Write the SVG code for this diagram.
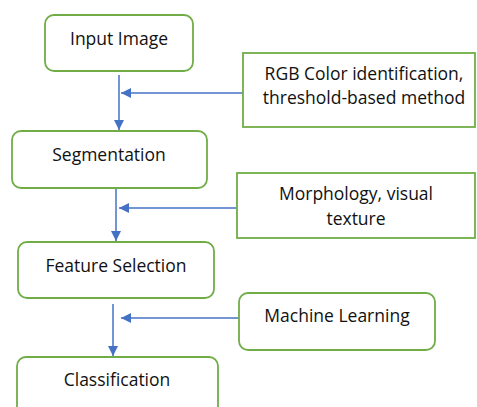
<svg xmlns="http://www.w3.org/2000/svg" width="477" height="407" viewBox="0 0 477 407">
  <defs>
    <style>
      .box { fill: #ffffff; stroke: #70AD47; stroke-width: 1.8; }
      .lbl { font-family: "Open Sans", "Liberation Sans", sans-serif; font-size: 17.5px; fill: #111111; text-anchor: middle; }
      .edge { fill: none; stroke: #4472C4; stroke-width: 1.5; }
    </style>
    <marker id="head" viewBox="0 0 10 10" refX="10" refY="5" markerWidth="10" markerHeight="10" markerUnits="userSpaceOnUse" orient="auto">
      <path d="M0,0 L10,5 L0,10 Z" fill="#4472C4"/>
    </marker>
  </defs>
  <rect width="477" height="407" fill="#ffffff"/>

  <g id="connectors">
    <line class="edge" x1="119" y1="75" x2="119" y2="130" marker-end="url(#head)"/>
    <line class="edge" x1="243" y1="93" x2="121" y2="93" marker-end="url(#head)"/>
    <line class="edge" x1="116" y1="184" x2="116" y2="241" marker-end="url(#head)"/>
    <line class="edge" x1="237" y1="208" x2="119" y2="208" marker-end="url(#head)"/>
    <line class="edge" x1="113" y1="304" x2="113" y2="356" marker-end="url(#head)"/>
    <line class="edge" x1="239" y1="318" x2="121" y2="318" marker-end="url(#head)"/>
  </g>

  <g id="input-image">
    <rect class="box" x="45" y="15" width="148" height="56" rx="9"/>
    <text class="lbl" x="119" y="44.5">Input Image</text>
  </g>
  <g id="segmentation">
    <rect class="box" x="12" y="131" width="195" height="57" rx="9"/>
    <text class="lbl" x="109" y="160.5">Segmentation</text>
  </g>
  <g id="feature-selection">
    <rect class="box" x="18" y="242" width="196" height="56" rx="9"/>
    <text class="lbl" x="116" y="271.5">Feature Selection</text>
  </g>
  <g id="classification">
    <rect class="box" x="17" y="357" width="201" height="60" rx="9"/>
    <text class="lbl" x="117" y="385.5">Classification</text>
  </g>
  <g id="rgb-threshold">
    <rect class="box" x="243" y="53" width="232" height="74"/>
    <text class="lbl" x="364" y="79.5">RGB Color identification,</text>
    <text class="lbl" x="364" y="104">threshold-based method</text>
  </g>
  <g id="morphology-texture">
    <rect class="box" x="237" y="173" width="238" height="65"/>
    <text class="lbl" x="356" y="200">Morphology, visual</text>
    <text class="lbl" x="356" y="225">texture</text>
  </g>
  <g id="machine-learning">
    <rect class="box" x="239" y="293" width="196" height="57" rx="9"/>
    <text class="lbl" x="337" y="322">Machine Learning</text>
  </g>
</svg>
